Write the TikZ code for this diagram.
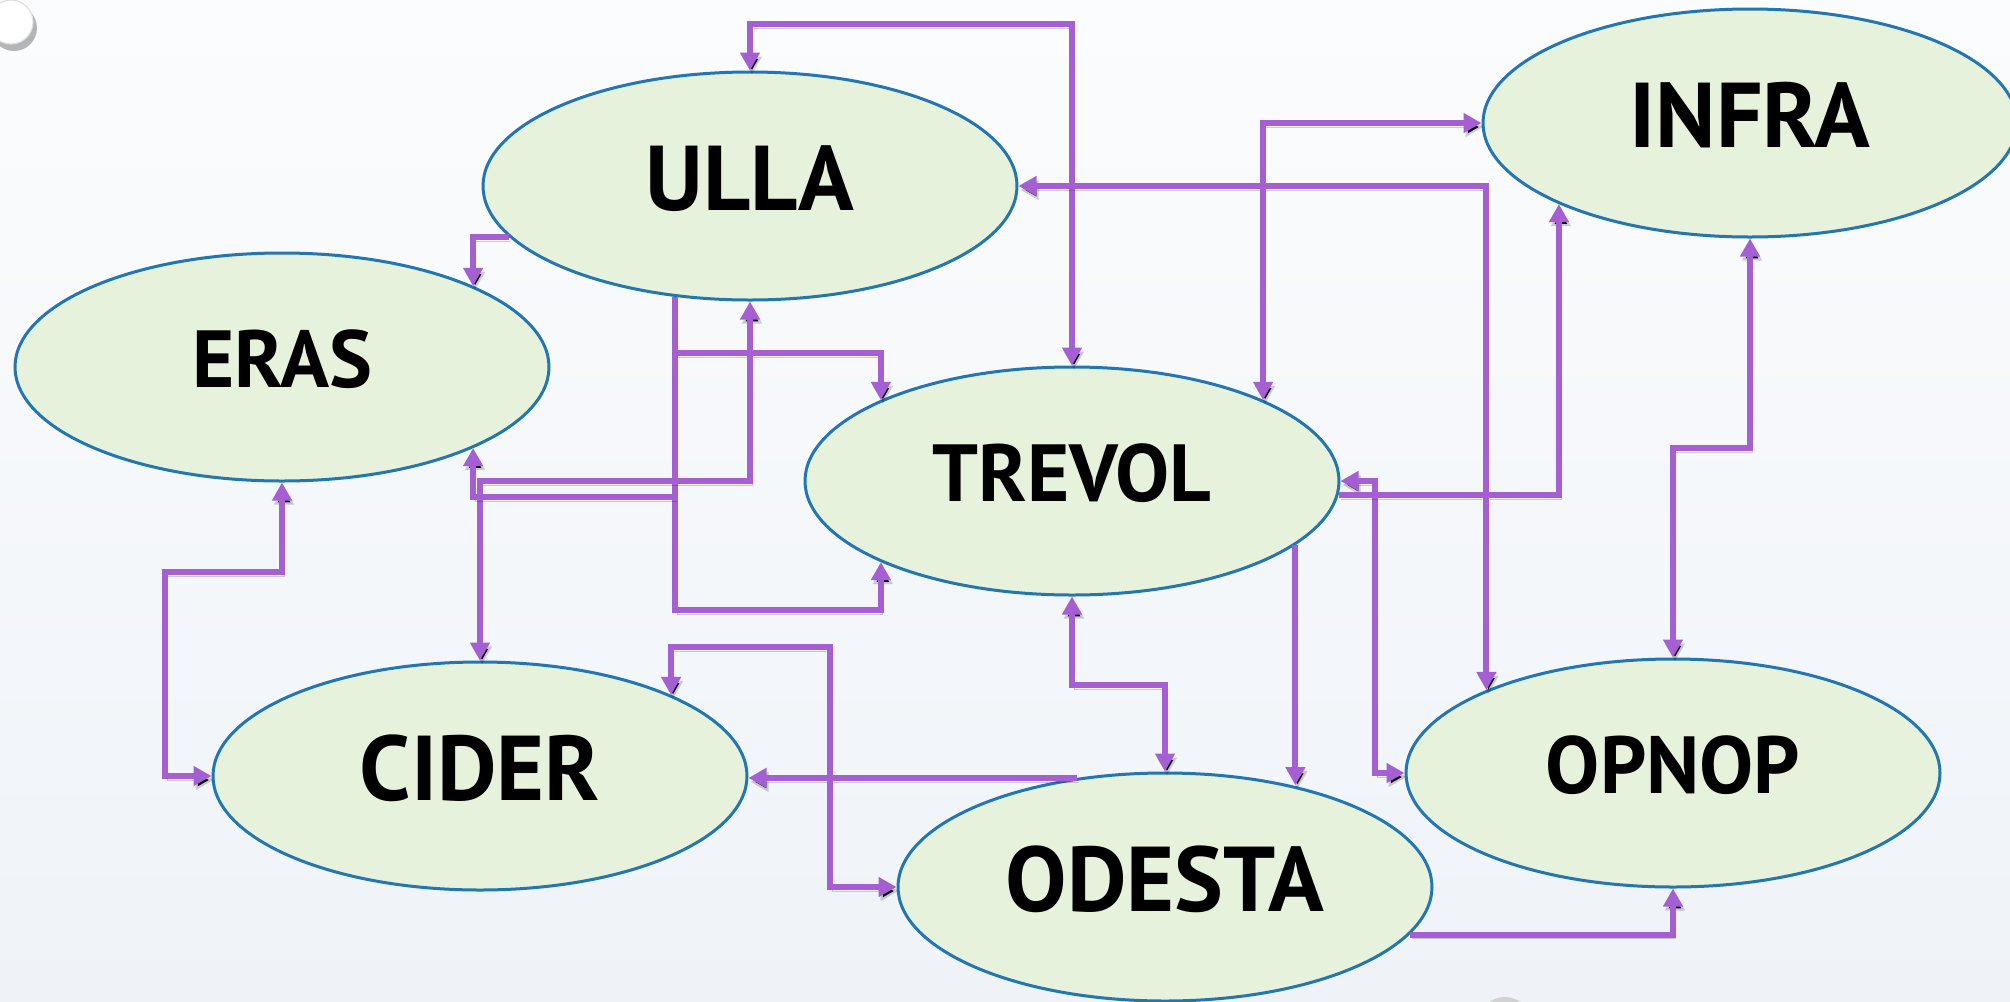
\documentclass[tikz,border=0pt]{standalone}
\usepackage{fontspec}
\setmainfont{PT Sans}
\usetikzlibrary{shapes.geometric,arrows.meta}
\definecolor{linkpurple}{RGB}{165,95,210}
\definecolor{nodeblue}{RGB}{35,118,178}
\definecolor{nodegreen}{RGB}{231,242,220}
\definecolor{bgtop}{RGB}{251,252,253}
\definecolor{bgbot}{RGB}{239,243,248}
\tikzset{
  state/.style={ellipse, draw=nodeblue, line width=1.5pt, fill=nodegreen,
    minimum width=267pt, minimum height=114pt, inner sep=0pt, text depth=8pt,
    font=\bfseries\fontsize{46}{50}\selectfont},
  smalltext/.style={font=\bfseries\fontsize{40.5}{44}\selectfont},
  link/.style={draw=linkpurple, line width=3pt,
    -{Triangle[length=9pt,width=9.5pt]},
    preaction={draw=black, draw opacity=0.18, transform canvas={shift={(1pt,-2pt)}}}},
  both/.style={link, {Triangle[length=9pt,width=9.5pt]}-{Triangle[length=9pt,width=9.5pt]}}
}
\begin{document}
\begin{tikzpicture}[x=0.5pt,y=-0.5pt]
\useasboundingbox (0,0) rectangle (2010,1002);
\shade[top color=bgtop, bottom color=bgbot] (0,0) rectangle (2010,1002);
% decorative discs
\fill[black, opacity=0.28] (14,28) circle (23);
\fill[white, draw=gray!25, line width=0.6pt] (11,22) circle (22);
\fill[gray!35] (1505,1024) circle (27);

% nodes
\node[state] (ulla) at (750,186) {ULLA};
\node[state,smalltext] (eras) at (282,367) {ERAS};
\node[state,smalltext] (trevol) at (1072,481) {TREVOL};
\node[state] (infra) at (1750,123) {INFRA};
\node[state] (cider) at (480,776) {CIDER};
\node[state] (odesta) at (1165,887) {ODESTA};
\node[state,smalltext] (opnop) at (1673,773) {OPNOP};

% routing levels
\coordinate (h24) at (0,24);
\coordinate (h353) at (0,353);
\coordinate (h448) at (0,448);
\coordinate (h481) at (0,481);
\coordinate (h497) at (0,497);
\coordinate (h572) at (0,572);
\coordinate (h610) at (0,610);
\coordinate (h647) at (0,647);
\coordinate (h685) at (0,685);
\coordinate (v165) at (165,0);
\coordinate (v830) at (830,0);
\coordinate (v1375) at (1375,0);

% connectors
\draw[both] (ulla.north) |- (trevol.north |- h24) -- (trevol.north);
\draw[link] (ulla.192) -| (eras.23);
\draw[link] (ulla.236) |- (trevol.203 |- h610) -- (trevol.203);
\draw[link] (ulla.236 |- h353) -| (trevol.157);
\draw[both] (cider.north) |- (ulla.south |- h481) -- (ulla.south);
\draw[link] (ulla.236 |- h497) -| (eras.337);
\draw[both] (eras.south) |- (v165 |- h572) |- (cider.west);
\draw[link] (odesta.129) -- (odesta.129 -| cider.east);
\draw[both] (cider.23) |- (v830 |- h647) |- (odesta.west);
\draw[both] (trevol.south) |- (odesta.north |- h685) -- (odesta.north);
\draw[link] (trevol.344) -- (trevol.344 |- odesta.39);
\draw[both] (trevol.east) -| (v1375 |- opnop.west) -- (opnop.west);
\draw[link] (trevol.357) -| (infra.203);
\draw[both] (ulla.east) -| (opnop.156);
\draw[both] (trevol.23) |- (infra.west);
\draw[both] (infra.south) |- (opnop.north |- h448) -- (opnop.north);
\draw[link] (odesta.349) -| (opnop.south);
\end{tikzpicture}
\end{document}
